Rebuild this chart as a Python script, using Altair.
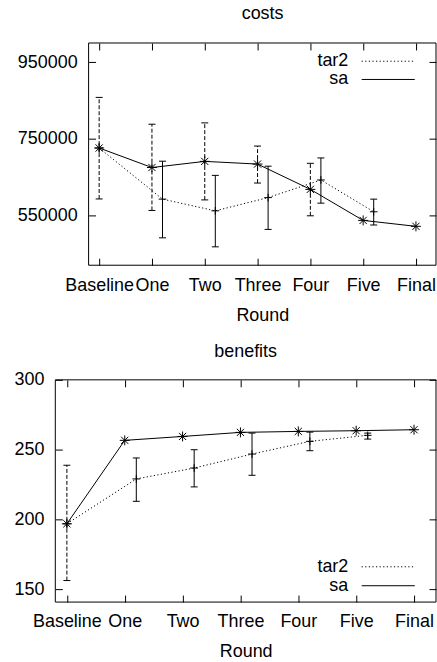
import altair as alt
import pandas as pd

FONT = "Liberation Sans"

rounds = ["Baseline", "One", "Two", "Three", "Four", "Five", "Final"]
series_names = ["tar2", "sa"]
tar2_offset = 0.2
x_box = [-0.2, 6.38]

# costs panel
sa_cost = [726000, 675000, 691000, 684000, 618000, 537000, 521500]
sa_cost_lo = [593000, 563000, 590500, 634500, 549000, None, None]
sa_cost_hi = [858000, 788000, 791500, 731000, 686000, None, None]
tar2_cost = [726000, 592500, 562000, 596500, 642500, 559500]
tar2_cost_lo = [None, 491500, 468000, 513500, 582000, 525000]
tar2_cost_hi = [None, 691500, 654500, 678500, 700000, 592500]
cost_ticks = [550000, 750000, 950000]
cost_domain = [420000, 1000000]

# benefits panel
sa_ben = [197, 256.7, 259.5, 262.4, 263.1, 263.6, 264.3]
sa_ben_lo = [156.4, None, None, None, None, None, None]
sa_ben_hi = [238.9, None, None, None, None, None, None]
tar2_ben = [197, 229.1, 236.9, 246.9, 256.0, 260.3]
tar2_ben_lo = [None, 213.1, 223.4, 231.7, 249.3, 257.6]
tar2_ben_hi = [None, 244.1, 250.0, 261.9, 262.6, 261.9]
ben_ticks = [150, 200, 250, 300]
ben_domain = [141, 300]

STAR = "M-1,0L1,0M0,-1L0,1M-0.72,-0.72L0.72,0.72M-0.72,0.72L0.72,-0.72"
PLUS = "M-1,0L1,0M0,-1L0,1"
LABEL_EXPR = "[" + ",".join("'%s'" % r for r in rounds) + "][datum.value]"
W = 382
H = 223


def frames(sa_v, sa_lo, sa_hi, t_v, t_lo, t_hi):
    sa = pd.DataFrame({"x": list(range(len(sa_v))), "y": sa_v,
                       "lo": sa_lo, "hi": sa_hi})
    tx = [0] + [i + tar2_offset for i in range(1, len(t_v))]
    tar = pd.DataFrame({"x": tx, "y": t_v, "lo": t_lo, "hi": t_hi})
    sa_err = sa.dropna(subset=["lo", "hi"])
    tar_err = tar.dropna(subset=["lo", "hi"])
    return sa[["x", "y"]], tar[["x", "y"]], sa_err, tar_err


def panel(title, data, ydom, yticks, inset, leg, title_offset, title_dx):
    sa, tar, sa_err, tar_err = data
    # the framed box is narrower than the group by `inset` pixels on the left
    ppu = (W - inset) / (x_box[1] - x_box[0])
    xdom = [x_box[0] - inset / ppu, x_box[1]]
    xs = alt.Scale(domain=xdom, nice=False, zero=False)
    ys = alt.Scale(domain=ydom, nice=False, zero=False)

    x_bottom = alt.X("x:Q", scale=xs, axis=alt.Axis(
        orient="bottom", values=list(range(len(rounds))), labelExpr=LABEL_EXPR,
        title="Round", offset=-7, tickSize=7, domain=False, grid=False,
        labelPadding=11, labelOverlap=False, labelFlush=False, labelBound=False,
        titlePadding=12, titleX=inset + (W - inset) / 2))
    y_left = alt.Y("y:Q", scale=ys, axis=alt.Axis(
        orient="left", values=yticks, format="d", title=None, offset=-(7 + inset),
        tickSize=7, domain=False, grid=False, labelPadding=11.5,
        labelOverlap=False, labelFlush=False, labelBound=False))
    x_top = alt.X("x:Q", scale=xs, axis=alt.Axis(
        orient="top", values=list(range(len(rounds))), labels=False, title=None,
        offset=-7, tickSize=7, domain=False, grid=False))
    y_right = alt.Y("y:Q", scale=ys, axis=alt.Axis(
        orient="right", values=yticks, labels=False, title=None, offset=-7,
        tickSize=7, domain=False, grid=False))
    xn = alt.X("x:Q", scale=xs, axis=None)

    def yn(f):
        return alt.Y(f + ":Q", scale=ys, axis=None)

    box = pd.DataFrame({"x": [x_box[0]], "x2": [x_box[1]],
                        "y": [ydom[0]], "y2": [ydom[1]]})
    frame = alt.Chart(box).mark_rect(
        fill="transparent", stroke="black", strokeWidth=1).encode(
        x=xn, x2="x2", y=yn("y"), y2="y2")

    sa_line = alt.Chart(sa).mark_line(color="black", strokeWidth=1).encode(
        x=x_bottom, y=y_left)
    tar_line = alt.Chart(tar).mark_line(
        color="black", strokeWidth=1, strokeDash=[1.2, 2.4]).encode(
        x=x_top, y=y_right)
    sa_pts = alt.Chart(sa).mark_point(
        shape=STAR, size=100, filled=False, color="black", strokeWidth=1,
        opacity=1).encode(x=xn, y=yn("y"))
    tar_pts = alt.Chart(tar).mark_point(
        shape=PLUS, size=60, filled=False, color="black", strokeWidth=1,
        opacity=1).encode(x=xn, y=yn("y"))

    layers = [frame, sa_line, tar_line, sa_pts, tar_pts]
    for df, dash in ((sa_err, [4, 2]), (tar_err, None)):
        kw = {"strokeDash": dash} if dash else {}
        layers.append(alt.Chart(df).mark_rule(color="black", strokeWidth=1, **kw)
                      .encode(x=xn, y=yn("lo"), y2="hi"))
        for f in ("lo", "hi"):
            layers.append(alt.Chart(df).mark_tick(
                orient="horizontal", size=7, thickness=1, color="black",
                opacity=1, **kw).encode(x=xn, y=yn(f)))

    tx, ty1, ty2, lx1, lx2 = leg
    for name, yy, dash in ((series_names[0], ty1, [1.2, 2.4]),
                           (series_names[1], ty2, None)):
        one = pd.DataFrame({"series": [name]})
        layers.append(alt.Chart(one).mark_text(
            align="right", baseline="middle", font=FONT, fontSize=18,
            color="black").encode(x=alt.value(tx), y=alt.value(yy),
                                  text="series:N"))
        kw = {"strokeDash": dash} if dash else {}
        layers.append(alt.Chart(one).mark_rule(color="black", strokeWidth=1, **kw)
                      .encode(x=alt.value(lx1), x2=alt.value(lx2),
                              y=alt.value(yy)))

    return alt.layer(*layers).resolve_axis(x="independent", y="independent").properties(
        width=W, height=H,
        view=alt.ViewBackground(stroke="transparent"),
        title=alt.TitleParams(text=title, font=FONT, fontSize=18,
                              fontWeight="normal", color="black",
                              anchor="middle", frame="group",
                              offset=title_offset, dx=title_dx))


costs = panel("costs",
              frames(sa_cost, sa_cost_lo, sa_cost_hi, tar2_cost, tar2_cost_lo, tar2_cost_hi),
              cost_domain, cost_ticks, 33.4, (294, 18.3, 36.6, 307.4, 360.7), 19.5, 17)
benefits = panel("benefits",
                 frames(sa_ben, sa_ben_lo, sa_ben_hi, tar2_ben, tar2_ben_lo, tar2_ben_hi),
                 ben_domain, ben_ticks, 0, (294, 187.6, 206.6, 307.4, 360.7), 10, 0)

chart = alt.concat(costs, benefits, columns=1, spacing=17).properties(
    padding={"left": 12.5, "top": 3, "right": 0, "bottom": 0},
    background="white",
).configure_axis(
    labelFont=FONT, labelFontSize=18, labelColor="black",
    titleFont=FONT, titleFontSize=18, titleFontWeight="normal", titleColor="black",
    tickColor="black", tickWidth=1,
)

chart.save("out.html", embed_options={"renderer": "svg", "actions": False})
